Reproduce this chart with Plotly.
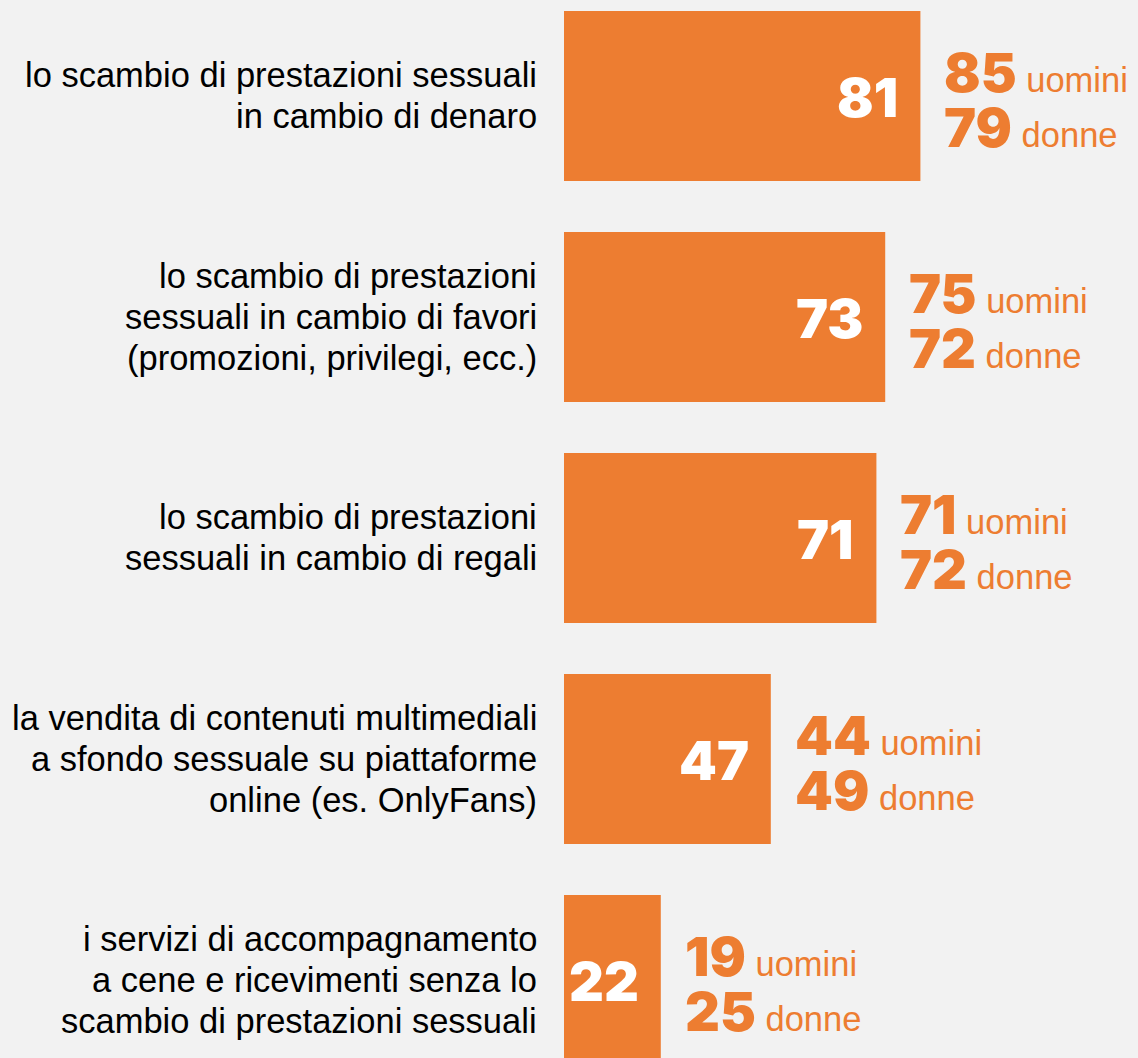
import plotly.graph_objects as go

labels = [
    "lo scambio di prestazioni sessuali<br>in cambio di denaro",
    "lo scambio di prestazioni<br>sessuali in cambio di favori<br>(promozioni, privilegi, ecc.)",
    "lo scambio di prestazioni<br>sessuali in cambio di regali",
    "la vendita di contenuti multimediali<br>a sfondo sessuale su piattaforme<br>online (es. OnlyFans)",
    "i servizi di accompagnamento<br>a cene e ricevimenti senza lo<br>scambio di prestazioni sessuali",
]
totale = [81, 73, 71, 47, 22]
uomini = [85, 75, 71, 44, 19]
donne = [79, 72, 72, 49, 25]
word_m = "uomini"
word_f = "donne"

ORANGE = "#ED7D31"
BG = "#F2F2F2"
HEAVY = "Inter, sans-serif"
REG = "Arial, Liberation Sans, sans-serif"
LINE_H = 41


def num_span(v):
    return f"<span style='font-family:{HEAVY};font-weight:900;font-size:54px'>{v}</span>"


def word_span(w):
    return f"<span style='font-family:{REG};font-size:34.5px'>\u00a0{w}</span>"


fig = go.Figure()
fig.add_trace(go.Bar(
    x=totale, y=labels, orientation="h",
    marker=dict(color=ORANGE, line=dict(width=0)),
    width=0.769, hoverinfo="skip",
))

ann = []
for lab, t, m, f in zip(labels, totale, uomini, donne):
    lines = lab.split("<br>")
    n = len(lines)
    for i, ln in enumerate(lines):
        ann.append(dict(x=0, xref="paper", y=lab, yref="y", text=ln, showarrow=False,
                        xanchor="right", xshift=-25, yshift=((n - 1) / 2 - i) * LINE_H,
                        font=dict(family=REG, size=34.5, color="#000000")))
    ann.append(dict(x=t, y=lab, xref="x", yref="y", text=str(t), showarrow=False,
                    xanchor="right", xshift=-20, yshift=-2,
                    font=dict(family=HEAVY, size=54, color="white", weight=900)))
    txt = num_span(m) + word_span(word_m) + "<br>" + num_span(f) + word_span(word_f)
    ann.append(dict(x=t, y=lab, xref="x", yref="y", text=txt, showarrow=False,
                    xanchor="left", xshift=22, yshift=-4, align="left",
                    font=dict(family=REG, size=42.3, color=ORANGE)))

fig.update_layout(
    width=1138, height=1058,
    margin=dict(l=564, r=0, t=0, b=0),
    paper_bgcolor=BG, plot_bgcolor=BG,
    showlegend=False,
    xaxis=dict(range=[0, 130.45], visible=False, fixedrange=True),
    yaxis=dict(type="category", range=[4.353, -0.434], visible=False,
               showgrid=False, fixedrange=True),
    annotations=ann,
)

fig.write_html("out.html", config={"displayModeBar": False},
               post_script="document.body.style.margin='0';document.body.style.background='#F2F2F2';")
